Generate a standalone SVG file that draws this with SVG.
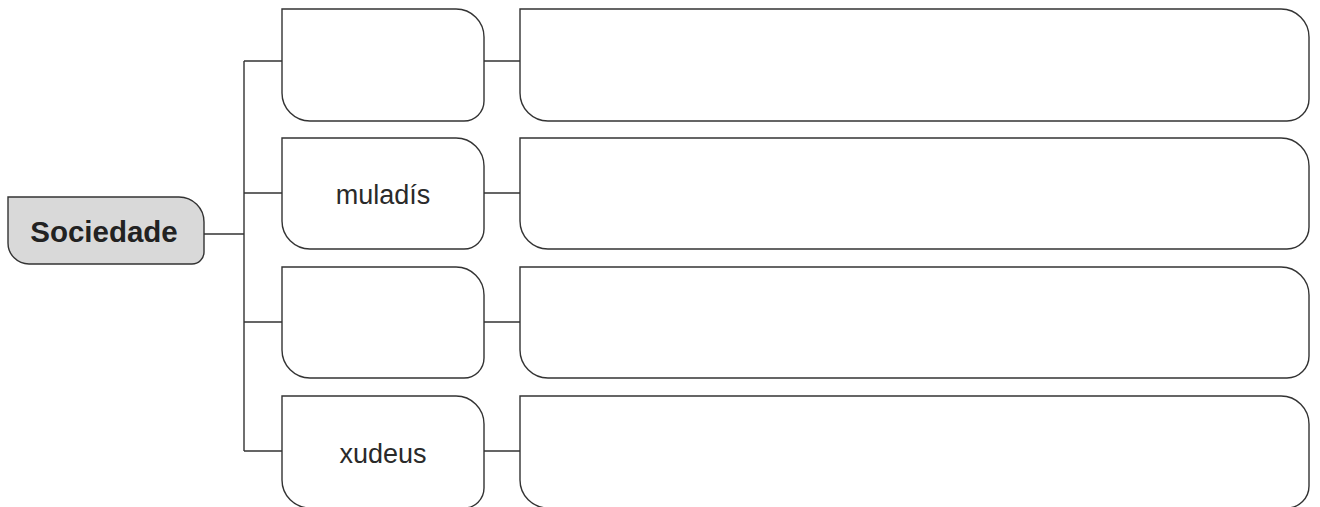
<svg xmlns="http://www.w3.org/2000/svg" width="1320" height="507" viewBox="0 0 1320 507">
<style>
.box{fill:#fff;stroke:#333;stroke-width:1.4}
.root{fill:#d9d9d9;stroke:#333;stroke-width:1.4}
.conn{fill:none;stroke:#333;stroke-width:1.4}
.t{font-family:"Liberation Sans",Arial,sans-serif;font-size:27px;fill:#2a2a2a;text-anchor:middle}
.b{font-weight:bold;font-size:29.5px;fill:#222}
</style>
<rect width="1320" height="507" fill="#fff"/>
<g id="connectors">
<path class="conn" d="M204,234 H244 M244,61 V451 M244,61 H282 M244,193 H282 M244,322 H282 M244,451 H282"/>
<path class="conn" d="M484,61 H520 M484,193 H520 M484,322 H520 M484,451 H520"/>
</g>
<g id="sociedade">
<path class="root" d="M8,197 H179 A25,25 0 0 1 204,222 V252 A12,12 0 0 1 192,264 H29 A21,21 0 0 1 8,243 Z"/>
<text class="t b" x="104" y="242">Sociedade</text>
</g>
<g id="n1">
<path class="box" d="M282,9 H456 A28,28 0 0 1 484,37 V101 A20,20 0 0 1 464,121 H310 A28,28 0 0 1 282,93 Z"/>
</g>
<g id="n2">
<path class="box" d="M282,138 H456 A28,28 0 0 1 484,166 V229 A20,20 0 0 1 464,249 H310 A28,28 0 0 1 282,221 Z"/>
<text class="t" x="383" y="204">muladís</text>
</g>
<g id="n3">
<path class="box" d="M282,267 H456 A28,28 0 0 1 484,295 V358 A20,20 0 0 1 464,378 H310 A28,28 0 0 1 282,350 Z"/>
</g>
<g id="n4">
<path class="box" d="M282,396 H456 A28,28 0 0 1 484,424 V488 A20,20 0 0 1 464,508 H310 A28,28 0 0 1 282,480 Z"/>
<text class="t" x="383" y="463">xudeus</text>
</g>
<g id="d1">
<path class="box" d="M520,9 H1281 A28,28 0 0 1 1309,37 V99 A22,22 0 0 1 1287,121 H548 A28,28 0 0 1 520,93 Z"/>
</g>
<g id="d2">
<path class="box" d="M520,138 H1281 A28,28 0 0 1 1309,166 V227 A22,22 0 0 1 1287,249 H548 A28,28 0 0 1 520,221 Z"/>
</g>
<g id="d3">
<path class="box" d="M520,267 H1281 A28,28 0 0 1 1309,295 V356 A22,22 0 0 1 1287,378 H548 A28,28 0 0 1 520,350 Z"/>
</g>
<g id="d4">
<path class="box" d="M520,396 H1281 A28,28 0 0 1 1309,424 V486 A22,22 0 0 1 1287,508 H548 A28,28 0 0 1 520,480 Z"/>
</g>
</svg>
